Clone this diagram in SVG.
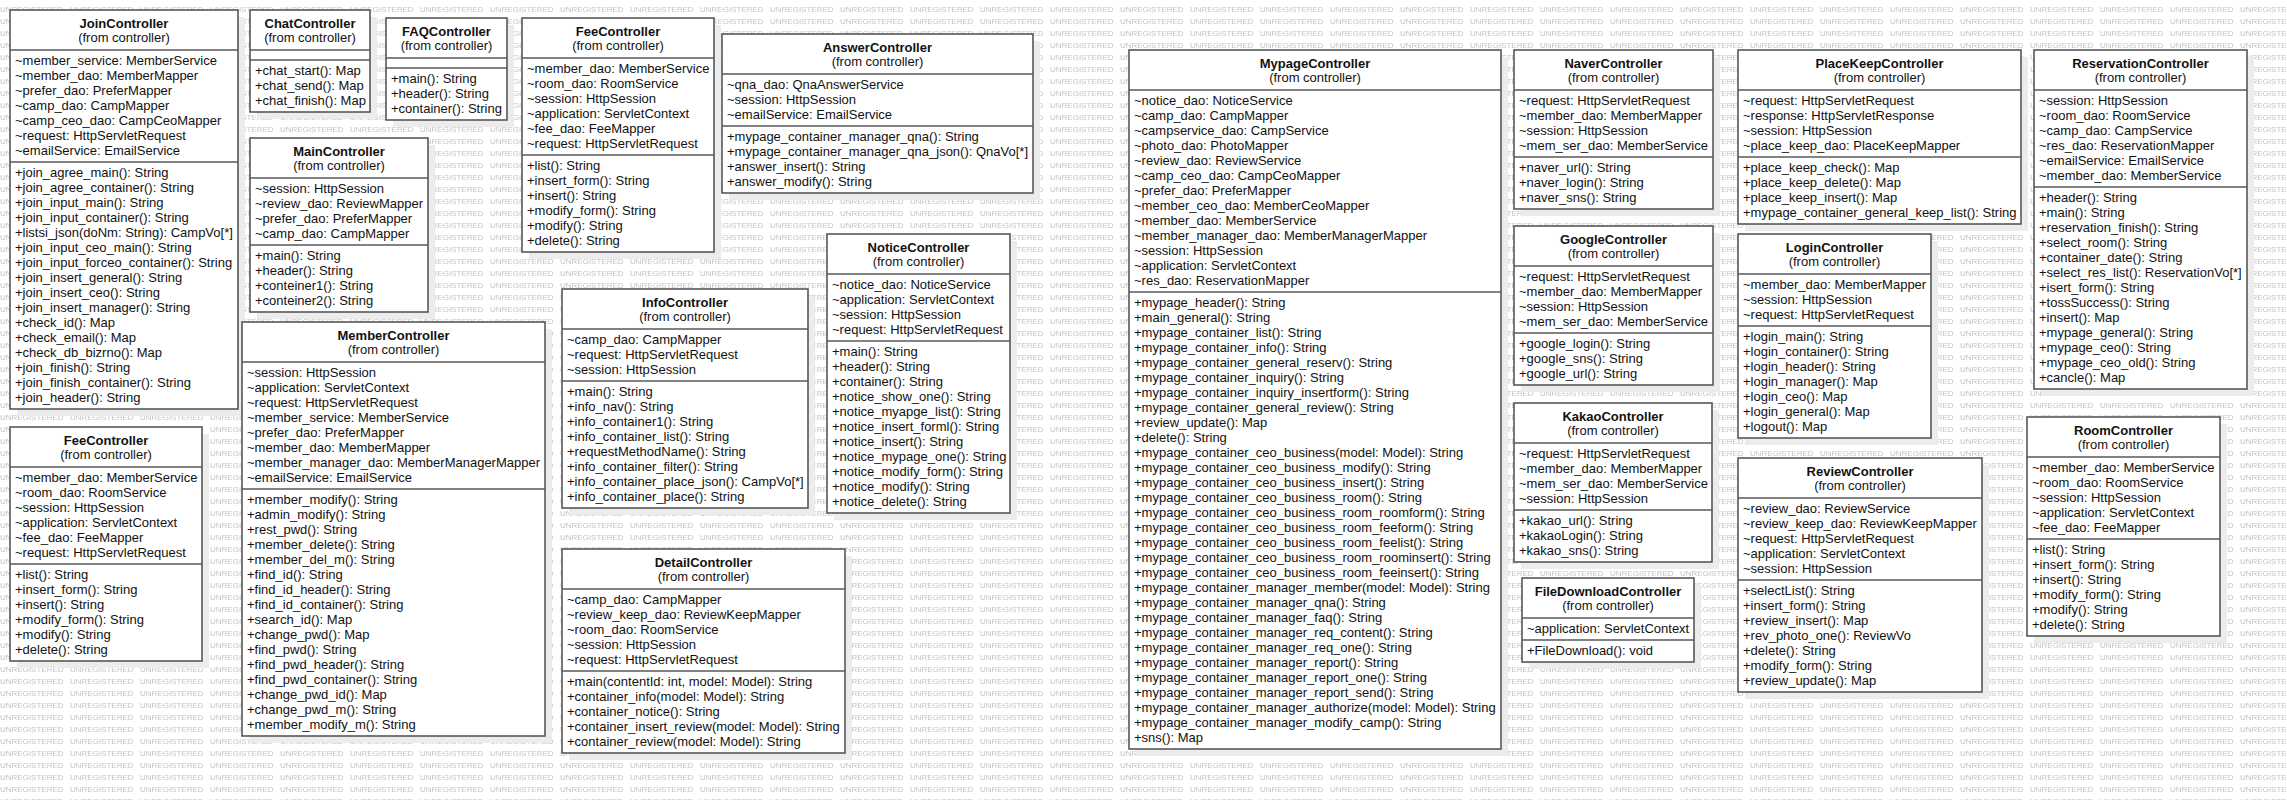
<svg xmlns="http://www.w3.org/2000/svg" width="2287" height="800" viewBox="0 0 2287 800">
<style>
.bx{fill:#fff;stroke:#585858;stroke-width:1.6}
.sh{fill:#ececec}
.sp{stroke:#585858;stroke-width:1.6}
.tt{font-family:"Liberation Sans",Arial,sans-serif;font-size:13px;font-weight:bold;fill:#111;text-anchor:middle}
.st{font-family:"Liberation Sans",Arial,sans-serif;font-size:13px;fill:#111;text-anchor:middle}
.tx{font-family:"Liberation Sans",Arial,sans-serif;font-size:13px;fill:#111}
.wm{font-family:"Liberation Sans",Arial,sans-serif;font-size:8px;fill:#c4c4c4}
</style>
<defs>
<pattern id="wmp" patternUnits="userSpaceOnUse" x="0" y="3" width="70" height="12">
<text class="wm" x="0" y="9">UNREGISTERED</text>
</pattern>
</defs>
<rect x="0" y="0" width="2287" height="800" fill="#fff"/>
<rect x="0" y="0" width="2287" height="800" fill="url(#wmp)"/>
<g id="connectors"/>

<g id="JoinController">
<rect class="sh" x="17" y="17" width="228" height="399"/>
<rect class="bx" x="10" y="10" width="228" height="399"/>
<line class="sp" x1="10" y1="50" x2="238" y2="50"/>
<line class="sp" x1="10" y1="162" x2="238" y2="162"/>
<text class="tt" x="124" y="28">JoinController</text>
<text class="st" x="124" y="42">(from controller)</text>
<text class="tx" x="15" y="65"><tspan x="15">~member_service: MemberService</tspan><tspan x="15" dy="15">~member_dao: MemberMapper</tspan><tspan x="15" dy="15">~prefer_dao: PreferMapper</tspan><tspan x="15" dy="15">~camp_dao: CampMapper</tspan><tspan x="15" dy="15">~camp_ceo_dao: CampCeoMapper</tspan><tspan x="15" dy="15">~request: HttpServletRequest</tspan><tspan x="15" dy="15">~emailService: EmailService</tspan></text>
<text class="tx" x="15" y="177"><tspan x="15">+join_agree_main(): String</tspan><tspan x="15" dy="15">+join_agree_container(): String</tspan><tspan x="15" dy="15">+join_input_main(): String</tspan><tspan x="15" dy="15">+join_input_container(): String</tspan><tspan x="15" dy="15">+listsi_json(doNm: String): CampVo[*]</tspan><tspan x="15" dy="15">+join_input_ceo_main(): String</tspan><tspan x="15" dy="15">+join_input_forceo_container(): String</tspan><tspan x="15" dy="15">+join_insert_general(): String</tspan><tspan x="15" dy="15">+join_insert_ceo(): String</tspan><tspan x="15" dy="15">+join_insert_manager(): String</tspan><tspan x="15" dy="15">+check_id(): Map</tspan><tspan x="15" dy="15">+check_email(): Map</tspan><tspan x="15" dy="15">+check_db_bizrno(): Map</tspan><tspan x="15" dy="15">+join_finish(): String</tspan><tspan x="15" dy="15">+join_finish_container(): String</tspan><tspan x="15" dy="15">+join_header(): String</tspan></text>
</g>

<g id="FeeControllerLeft">
<rect class="sh" x="17" y="434" width="192" height="234"/>
<rect class="bx" x="10" y="427" width="192" height="234"/>
<line class="sp" x1="10" y1="467" x2="202" y2="467"/>
<line class="sp" x1="10" y1="564" x2="202" y2="564"/>
<text class="tt" x="106" y="445">FeeController</text>
<text class="st" x="106" y="459">(from controller)</text>
<text class="tx" x="15" y="482"><tspan x="15">~member_dao: MemberService</tspan><tspan x="15" dy="15">~room_dao: RoomService</tspan><tspan x="15" dy="15">~session: HttpSession</tspan><tspan x="15" dy="15">~application: ServletContext</tspan><tspan x="15" dy="15">~fee_dao: FeeMapper</tspan><tspan x="15" dy="15">~request: HttpServletRequest</tspan></text>
<text class="tx" x="15" y="579"><tspan x="15">+list(): String</tspan><tspan x="15" dy="15">+insert_form(): String</tspan><tspan x="15" dy="15">+insert(): String</tspan><tspan x="15" dy="15">+modify_form(): String</tspan><tspan x="15" dy="15">+modify(): String</tspan><tspan x="15" dy="15">+delete(): String</tspan></text>
</g>

<g id="ChatController">
<rect class="sh" x="257" y="17" width="120" height="102"/>
<rect class="bx" x="250" y="10" width="120" height="102"/>
<line class="sp" x1="250" y1="50" x2="370" y2="50"/>
<line class="sp" x1="250" y1="60" x2="370" y2="60"/>
<text class="tt" x="310" y="28">ChatController</text>
<text class="st" x="310" y="42">(from controller)</text>
<text class="tx" x="255" y="75"><tspan x="255">+chat_start(): Map</tspan><tspan x="255" dy="15">+chat_send(): Map</tspan><tspan x="255" dy="15">+chat_finish(): Map</tspan></text>
</g>

<g id="FAQController">
<rect class="sh" x="393" y="25" width="121" height="102"/>
<rect class="bx" x="386" y="18" width="121" height="102"/>
<line class="sp" x1="386" y1="58" x2="507" y2="58"/>
<line class="sp" x1="386" y1="68" x2="507" y2="68"/>
<text class="tt" x="446.5" y="36">FAQController</text>
<text class="st" x="446.5" y="50">(from controller)</text>
<text class="tx" x="391" y="83"><tspan x="391">+main(): String</tspan><tspan x="391" dy="15">+header(): String</tspan><tspan x="391" dy="15">+container(): String</tspan></text>
</g>

<g id="FeeControllerTop">
<rect class="sh" x="529" y="25" width="192" height="234"/>
<rect class="bx" x="522" y="18" width="192" height="234"/>
<line class="sp" x1="522" y1="58" x2="714" y2="58"/>
<line class="sp" x1="522" y1="155" x2="714" y2="155"/>
<text class="tt" x="618" y="36">FeeController</text>
<text class="st" x="618" y="50">(from controller)</text>
<text class="tx" x="527" y="73"><tspan x="527">~member_dao: MemberService</tspan><tspan x="527" dy="15">~room_dao: RoomService</tspan><tspan x="527" dy="15">~session: HttpSession</tspan><tspan x="527" dy="15">~application: ServletContext</tspan><tspan x="527" dy="15">~fee_dao: FeeMapper</tspan><tspan x="527" dy="15">~request: HttpServletRequest</tspan></text>
<text class="tx" x="527" y="170"><tspan x="527">+list(): String</tspan><tspan x="527" dy="15">+insert_form(): String</tspan><tspan x="527" dy="15">+insert(): String</tspan><tspan x="527" dy="15">+modify_form(): String</tspan><tspan x="527" dy="15">+modify(): String</tspan><tspan x="527" dy="15">+delete(): String</tspan></text>
</g>

<g id="MainController">
<rect class="sh" x="257" y="145" width="178" height="174"/>
<rect class="bx" x="250" y="138" width="178" height="174"/>
<line class="sp" x1="250" y1="178" x2="428" y2="178"/>
<line class="sp" x1="250" y1="245" x2="428" y2="245"/>
<text class="tt" x="339" y="156">MainController</text>
<text class="st" x="339" y="170">(from controller)</text>
<text class="tx" x="255" y="193"><tspan x="255">~session: HttpSession</tspan><tspan x="255" dy="15">~review_dao: ReviewMapper</tspan><tspan x="255" dy="15">~prefer_dao: PreferMapper</tspan><tspan x="255" dy="15">~camp_dao: CampMapper</tspan></text>
<text class="tx" x="255" y="260"><tspan x="255">+main(): String</tspan><tspan x="255" dy="15">+header(): String</tspan><tspan x="255" dy="15">+conteiner1(): String</tspan><tspan x="255" dy="15">+conteiner2(): String</tspan></text>
</g>

<g id="MemberController">
<rect class="sh" x="249" y="329" width="303" height="414"/>
<rect class="bx" x="242" y="322" width="303" height="414"/>
<line class="sp" x1="242" y1="362" x2="545" y2="362"/>
<line class="sp" x1="242" y1="489" x2="545" y2="489"/>
<text class="tt" x="393.5" y="340">MemberController</text>
<text class="st" x="393.5" y="354">(from controller)</text>
<text class="tx" x="247" y="377"><tspan x="247">~session: HttpSession</tspan><tspan x="247" dy="15">~application: ServletContext</tspan><tspan x="247" dy="15">~request: HttpServletRequest</tspan><tspan x="247" dy="15">~member_service: MemberService</tspan><tspan x="247" dy="15">~prefer_dao: PreferMapper</tspan><tspan x="247" dy="15">~member_dao: MemberMapper</tspan><tspan x="247" dy="15">~member_manager_dao: MemberManagerMapper</tspan><tspan x="247" dy="15">~emailService: EmailService</tspan></text>
<text class="tx" x="247" y="504"><tspan x="247">+member_modify(): String</tspan><tspan x="247" dy="15">+admin_modify(): String</tspan><tspan x="247" dy="15">+rest_pwd(): String</tspan><tspan x="247" dy="15">+member_delete(): String</tspan><tspan x="247" dy="15">+member_del_m(): String</tspan><tspan x="247" dy="15">+find_id(): String</tspan><tspan x="247" dy="15">+find_id_header(): String</tspan><tspan x="247" dy="15">+find_id_container(): String</tspan><tspan x="247" dy="15">+search_id(): Map</tspan><tspan x="247" dy="15">+change_pwd(): Map</tspan><tspan x="247" dy="15">+find_pwd(): String</tspan><tspan x="247" dy="15">+find_pwd_header(): String</tspan><tspan x="247" dy="15">+find_pwd_container(): String</tspan><tspan x="247" dy="15">+change_pwd_id(): Map</tspan><tspan x="247" dy="15">+change_pwd_m(): String</tspan><tspan x="247" dy="15">+member_modify_m(): String</tspan></text>
</g>

<g id="InfoController">
<rect class="sh" x="569" y="296" width="246" height="219"/>
<rect class="bx" x="562" y="289" width="246" height="219"/>
<line class="sp" x1="562" y1="329" x2="808" y2="329"/>
<line class="sp" x1="562" y1="381" x2="808" y2="381"/>
<text class="tt" x="685" y="307">InfoController</text>
<text class="st" x="685" y="321">(from controller)</text>
<text class="tx" x="567" y="344"><tspan x="567">~camp_dao: CampMapper</tspan><tspan x="567" dy="15">~request: HttpServletRequest</tspan><tspan x="567" dy="15">~session: HttpSession</tspan></text>
<text class="tx" x="567" y="396"><tspan x="567">+main(): String</tspan><tspan x="567" dy="15">+info_nav(): String</tspan><tspan x="567" dy="15">+info_container1(): String</tspan><tspan x="567" dy="15">+info_container_list(): String</tspan><tspan x="567" dy="15">+requestMethodName(): String</tspan><tspan x="567" dy="15">+info_container_filter(): String</tspan><tspan x="567" dy="15">+info_container_place_json(): CampVo[*]</tspan><tspan x="567" dy="15">+info_container_place(): String</tspan></text>
</g>

<g id="NoticeController">
<rect class="sh" x="834" y="241" width="183" height="279"/>
<rect class="bx" x="827" y="234" width="183" height="279"/>
<line class="sp" x1="827" y1="274" x2="1010" y2="274"/>
<line class="sp" x1="827" y1="341" x2="1010" y2="341"/>
<text class="tt" x="918.5" y="252">NoticeController</text>
<text class="st" x="918.5" y="266">(from controller)</text>
<text class="tx" x="832" y="289"><tspan x="832">~notice_dao: NoticeService</tspan><tspan x="832" dy="15">~application: ServletContext</tspan><tspan x="832" dy="15">~session: HttpSession</tspan><tspan x="832" dy="15">~request: HttpServletRequest</tspan></text>
<text class="tx" x="832" y="356"><tspan x="832">+main(): String</tspan><tspan x="832" dy="15">+header(): String</tspan><tspan x="832" dy="15">+container(): String</tspan><tspan x="832" dy="15">+notice_show_one(): String</tspan><tspan x="832" dy="15">+notice_myapge_list(): String</tspan><tspan x="832" dy="15">+notice_insert_forml(): String</tspan><tspan x="832" dy="15">+notice_insert(): String</tspan><tspan x="832" dy="15">+notice_mypage_one(): String</tspan><tspan x="832" dy="15">+notice_modify_form(): String</tspan><tspan x="832" dy="15">+notice_modify(): String</tspan><tspan x="832" dy="15">+notice_delete(): String</tspan></text>
</g>

<g id="DetailController">
<rect class="sh" x="569" y="556" width="283" height="204"/>
<rect class="bx" x="562" y="549" width="283" height="204"/>
<line class="sp" x1="562" y1="589" x2="845" y2="589"/>
<line class="sp" x1="562" y1="671" x2="845" y2="671"/>
<text class="tt" x="703.5" y="567">DetailController</text>
<text class="st" x="703.5" y="581">(from controller)</text>
<text class="tx" x="567" y="604"><tspan x="567">~camp_dao: CampMapper</tspan><tspan x="567" dy="15">~review_keep_dao: ReviewKeepMapper</tspan><tspan x="567" dy="15">~room_dao: RoomService</tspan><tspan x="567" dy="15">~session: HttpSession</tspan><tspan x="567" dy="15">~request: HttpServletRequest</tspan></text>
<text class="tx" x="567" y="686"><tspan x="567">+main(contentId: int, model: Model): String</tspan><tspan x="567" dy="15">+container_info(model: Model): String</tspan><tspan x="567" dy="15">+container_notice(): String</tspan><tspan x="567" dy="15">+container_insert_review(model: Model): String</tspan><tspan x="567" dy="15">+container_review(model: Model): String</tspan></text>
</g>

<g id="AnswerController">
<rect class="sh" x="729" y="41" width="311" height="159"/>
<rect class="bx" x="722" y="34" width="311" height="159"/>
<line class="sp" x1="722" y1="74" x2="1033" y2="74"/>
<line class="sp" x1="722" y1="126" x2="1033" y2="126"/>
<text class="tt" x="877.5" y="52">AnswerController</text>
<text class="st" x="877.5" y="66">(from controller)</text>
<text class="tx" x="727" y="89"><tspan x="727">~qna_dao: QnaAnswerService</tspan><tspan x="727" dy="15">~session: HttpSession</tspan><tspan x="727" dy="15">~emailService: EmailService</tspan></text>
<text class="tx" x="727" y="141"><tspan x="727">+mypage_container_manager_qna(): String</tspan><tspan x="727" dy="15">+mypage_container_manager_qna_json(): QnaVo[*]</tspan><tspan x="727" dy="15">+answer_insert(): String</tspan><tspan x="727" dy="15">+answer_modify(): String</tspan></text>
</g>

<g id="MypageController">
<rect class="sh" x="1136" y="57" width="372" height="699"/>
<rect class="bx" x="1129" y="50" width="372" height="699"/>
<line class="sp" x1="1129" y1="90" x2="1501" y2="90"/>
<line class="sp" x1="1129" y1="292" x2="1501" y2="292"/>
<text class="tt" x="1315" y="68">MypageController</text>
<text class="st" x="1315" y="82">(from controller)</text>
<text class="tx" x="1134" y="105"><tspan x="1134">~notice_dao: NoticeService</tspan><tspan x="1134" dy="15">~camp_dao: CampMapper</tspan><tspan x="1134" dy="15">~campservice_dao: CampService</tspan><tspan x="1134" dy="15">~photo_dao: PhotoMapper</tspan><tspan x="1134" dy="15">~review_dao: ReviewService</tspan><tspan x="1134" dy="15">~camp_ceo_dao: CampCeoMapper</tspan><tspan x="1134" dy="15">~prefer_dao: PreferMapper</tspan><tspan x="1134" dy="15">~member_ceo_dao: MemberCeoMapper</tspan><tspan x="1134" dy="15">~member_dao: MemberService</tspan><tspan x="1134" dy="15">~member_manager_dao: MemberManagerMapper</tspan><tspan x="1134" dy="15">~session: HttpSession</tspan><tspan x="1134" dy="15">~application: ServletContext</tspan><tspan x="1134" dy="15">~res_dao: ReservationMapper</tspan></text>
<text class="tx" x="1134" y="307"><tspan x="1134">+mypage_header(): String</tspan><tspan x="1134" dy="15">+main_general(): String</tspan><tspan x="1134" dy="15">+mypage_container_list(): String</tspan><tspan x="1134" dy="15">+mypage_container_info(): String</tspan><tspan x="1134" dy="15">+mypage_container_general_reserv(): String</tspan><tspan x="1134" dy="15">+mypage_container_inquiry(): String</tspan><tspan x="1134" dy="15">+mypage_container_inquiry_insertform(): String</tspan><tspan x="1134" dy="15">+mypage_container_general_review(): String</tspan><tspan x="1134" dy="15">+review_update(): Map</tspan><tspan x="1134" dy="15">+delete(): String</tspan><tspan x="1134" dy="15">+mypage_container_ceo_business(model: Model): String</tspan><tspan x="1134" dy="15">+mypage_container_ceo_business_modify(): String</tspan><tspan x="1134" dy="15">+mypage_container_ceo_business_insert(): String</tspan><tspan x="1134" dy="15">+mypage_container_ceo_business_room(): String</tspan><tspan x="1134" dy="15">+mypage_container_ceo_business_room_roomform(): String</tspan><tspan x="1134" dy="15">+mypage_container_ceo_business_room_feeform(): String</tspan><tspan x="1134" dy="15">+mypage_container_ceo_business_room_feelist(): String</tspan><tspan x="1134" dy="15">+mypage_container_ceo_business_room_roominsert(): String</tspan><tspan x="1134" dy="15">+mypage_container_ceo_business_room_feeinsert(): String</tspan><tspan x="1134" dy="15">+mypage_container_manager_member(model: Model): String</tspan><tspan x="1134" dy="15">+mypage_container_manager_qna(): String</tspan><tspan x="1134" dy="15">+mypage_container_manager_faq(): String</tspan><tspan x="1134" dy="15">+mypage_container_manager_req_content(): String</tspan><tspan x="1134" dy="15">+mypage_container_manager_req_one(): String</tspan><tspan x="1134" dy="15">+mypage_container_manager_report(): String</tspan><tspan x="1134" dy="15">+mypage_container_manager_report_one(): String</tspan><tspan x="1134" dy="15">+mypage_container_manager_report_send(): String</tspan><tspan x="1134" dy="15">+mypage_container_manager_authorize(model: Model): String</tspan><tspan x="1134" dy="15">+mypage_container_manager_modify_camp(): String</tspan><tspan x="1134" dy="15">+sns(): Map</tspan></text>
</g>

<g id="NaverController">
<rect class="sh" x="1521" y="57" width="199" height="159"/>
<rect class="bx" x="1514" y="50" width="199" height="159"/>
<line class="sp" x1="1514" y1="90" x2="1713" y2="90"/>
<line class="sp" x1="1514" y1="157" x2="1713" y2="157"/>
<text class="tt" x="1613.5" y="68">NaverController</text>
<text class="st" x="1613.5" y="82">(from controller)</text>
<text class="tx" x="1519" y="105"><tspan x="1519">~request: HttpServletRequest</tspan><tspan x="1519" dy="15">~member_dao: MemberMapper</tspan><tspan x="1519" dy="15">~session: HttpSession</tspan><tspan x="1519" dy="15">~mem_ser_dao: MemberService</tspan></text>
<text class="tx" x="1519" y="172"><tspan x="1519">+naver_url(): String</tspan><tspan x="1519" dy="15">+naver_login(): String</tspan><tspan x="1519" dy="15">+naver_sns(): String</tspan></text>
</g>

<g id="GoogleController">
<rect class="sh" x="1521" y="233" width="199" height="159"/>
<rect class="bx" x="1514" y="226" width="199" height="159"/>
<line class="sp" x1="1514" y1="266" x2="1713" y2="266"/>
<line class="sp" x1="1514" y1="333" x2="1713" y2="333"/>
<text class="tt" x="1613.5" y="244">GoogleController</text>
<text class="st" x="1613.5" y="258">(from controller)</text>
<text class="tx" x="1519" y="281"><tspan x="1519">~request: HttpServletRequest</tspan><tspan x="1519" dy="15">~member_dao: MemberMapper</tspan><tspan x="1519" dy="15">~session: HttpSession</tspan><tspan x="1519" dy="15">~mem_ser_dao: MemberService</tspan></text>
<text class="tx" x="1519" y="348"><tspan x="1519">+google_login(): String</tspan><tspan x="1519" dy="15">+google_sns(): String</tspan><tspan x="1519" dy="15">+google_url(): String</tspan></text>
</g>

<g id="KakaoController">
<rect class="sh" x="1521" y="410" width="198" height="159"/>
<rect class="bx" x="1514" y="403" width="198" height="159"/>
<line class="sp" x1="1514" y1="443" x2="1712" y2="443"/>
<line class="sp" x1="1514" y1="510" x2="1712" y2="510"/>
<text class="tt" x="1613" y="421">KakaoController</text>
<text class="st" x="1613" y="435">(from controller)</text>
<text class="tx" x="1519" y="458"><tspan x="1519">~request: HttpServletRequest</tspan><tspan x="1519" dy="15">~member_dao: MemberMapper</tspan><tspan x="1519" dy="15">~mem_ser_dao: MemberService</tspan><tspan x="1519" dy="15">~session: HttpSession</tspan></text>
<text class="tx" x="1519" y="525"><tspan x="1519">+kakao_url(): String</tspan><tspan x="1519" dy="15">+kakaoLogin(): String</tspan><tspan x="1519" dy="15">+kakao_sns(): String</tspan></text>
</g>

<g id="FileDownloadController">
<rect class="sh" x="1529" y="585" width="172" height="84"/>
<rect class="bx" x="1522" y="578" width="172" height="84"/>
<line class="sp" x1="1522" y1="618" x2="1694" y2="618"/>
<line class="sp" x1="1522" y1="640" x2="1694" y2="640"/>
<text class="tt" x="1608" y="596">FileDownloadController</text>
<text class="st" x="1608" y="610">(from controller)</text>
<text class="tx" x="1527" y="633">~application: ServletContext</text>
<text class="tx" x="1527" y="655">+FileDownload(): void</text>
</g>

<g id="PlaceKeepController">
<rect class="sh" x="1745" y="57" width="283" height="174"/>
<rect class="bx" x="1738" y="50" width="283" height="174"/>
<line class="sp" x1="1738" y1="90" x2="2021" y2="90"/>
<line class="sp" x1="1738" y1="157" x2="2021" y2="157"/>
<text class="tt" x="1879.5" y="68">PlaceKeepController</text>
<text class="st" x="1879.5" y="82">(from controller)</text>
<text class="tx" x="1743" y="105"><tspan x="1743">~request: HttpServletRequest</tspan><tspan x="1743" dy="15">~response: HttpServletResponse</tspan><tspan x="1743" dy="15">~session: HttpSession</tspan><tspan x="1743" dy="15">~place_keep_dao: PlaceKeepMapper</tspan></text>
<text class="tx" x="1743" y="172"><tspan x="1743">+place_keep_check(): Map</tspan><tspan x="1743" dy="15">+place_keep_delete(): Map</tspan><tspan x="1743" dy="15">+place_keep_insert(): Map</tspan><tspan x="1743" dy="15">+mypage_container_general_keep_list(): String</tspan></text>
</g>

<g id="LoginController">
<rect class="sh" x="1745" y="241" width="193" height="204"/>
<rect class="bx" x="1738" y="234" width="193" height="204"/>
<line class="sp" x1="1738" y1="274" x2="1931" y2="274"/>
<line class="sp" x1="1738" y1="326" x2="1931" y2="326"/>
<text class="tt" x="1834.5" y="252">LoginController</text>
<text class="st" x="1834.5" y="266">(from controller)</text>
<text class="tx" x="1743" y="289"><tspan x="1743">~member_dao: MemberMapper</tspan><tspan x="1743" dy="15">~session: HttpSession</tspan><tspan x="1743" dy="15">~request: HttpServletRequest</tspan></text>
<text class="tx" x="1743" y="341"><tspan x="1743">+login_main(): String</tspan><tspan x="1743" dy="15">+login_container(): String</tspan><tspan x="1743" dy="15">+login_header(): String</tspan><tspan x="1743" dy="15">+login_manager(): Map</tspan><tspan x="1743" dy="15">+login_ceo(): Map</tspan><tspan x="1743" dy="15">+login_general(): Map</tspan><tspan x="1743" dy="15">+logout(): Map</tspan></text>
</g>

<g id="ReviewController">
<rect class="sh" x="1745" y="465" width="244" height="234"/>
<rect class="bx" x="1738" y="458" width="244" height="234"/>
<line class="sp" x1="1738" y1="498" x2="1982" y2="498"/>
<line class="sp" x1="1738" y1="580" x2="1982" y2="580"/>
<text class="tt" x="1860" y="476">ReviewController</text>
<text class="st" x="1860" y="490">(from controller)</text>
<text class="tx" x="1743" y="513"><tspan x="1743">~review_dao: ReviewService</tspan><tspan x="1743" dy="15">~review_keep_dao: ReviewKeepMapper</tspan><tspan x="1743" dy="15">~request: HttpServletRequest</tspan><tspan x="1743" dy="15">~application: ServletContext</tspan><tspan x="1743" dy="15">~session: HttpSession</tspan></text>
<text class="tx" x="1743" y="595"><tspan x="1743">+selectList(): String</tspan><tspan x="1743" dy="15">+insert_form(): String</tspan><tspan x="1743" dy="15">+review_insert(): Map</tspan><tspan x="1743" dy="15">+rev_photo_one(): ReviewVo</tspan><tspan x="1743" dy="15">+delete(): String</tspan><tspan x="1743" dy="15">+modify_form(): String</tspan><tspan x="1743" dy="15">+review_update(): Map</tspan></text>
</g>

<g id="ReservationController">
<rect class="sh" x="2041" y="57" width="213" height="339"/>
<rect class="bx" x="2034" y="50" width="213" height="339"/>
<line class="sp" x1="2034" y1="90" x2="2247" y2="90"/>
<line class="sp" x1="2034" y1="187" x2="2247" y2="187"/>
<text class="tt" x="2140.5" y="68">ReservationController</text>
<text class="st" x="2140.5" y="82">(from controller)</text>
<text class="tx" x="2039" y="105"><tspan x="2039">~session: HttpSession</tspan><tspan x="2039" dy="15">~room_dao: RoomService</tspan><tspan x="2039" dy="15">~camp_dao: CampService</tspan><tspan x="2039" dy="15">~res_dao: ReservationMapper</tspan><tspan x="2039" dy="15">~emailService: EmailService</tspan><tspan x="2039" dy="15">~member_dao: MemberService</tspan></text>
<text class="tx" x="2039" y="202"><tspan x="2039">+header(): String</tspan><tspan x="2039" dy="15">+main(): String</tspan><tspan x="2039" dy="15">+reservation_finish(): String</tspan><tspan x="2039" dy="15">+select_room(): String</tspan><tspan x="2039" dy="15">+container_date(): String</tspan><tspan x="2039" dy="15">+select_res_list(): ReservationVo[*]</tspan><tspan x="2039" dy="15">+isert_form(): String</tspan><tspan x="2039" dy="15">+tossSuccess(): String</tspan><tspan x="2039" dy="15">+insert(): Map</tspan><tspan x="2039" dy="15">+mypage_general(): String</tspan><tspan x="2039" dy="15">+mypage_ceo(): String</tspan><tspan x="2039" dy="15">+mypage_ceo_old(): String</tspan><tspan x="2039" dy="15">+cancle(): Map</tspan></text>
</g>

<g id="RoomController">
<rect class="sh" x="2034" y="424" width="193" height="219"/>
<rect class="bx" x="2027" y="417" width="193" height="219"/>
<line class="sp" x1="2027" y1="457" x2="2220" y2="457"/>
<line class="sp" x1="2027" y1="539" x2="2220" y2="539"/>
<text class="tt" x="2123.5" y="435">RoomController</text>
<text class="st" x="2123.5" y="449">(from controller)</text>
<text class="tx" x="2032" y="472"><tspan x="2032">~member_dao: MemberService</tspan><tspan x="2032" dy="15">~room_dao: RoomService</tspan><tspan x="2032" dy="15">~session: HttpSession</tspan><tspan x="2032" dy="15">~application: ServletContext</tspan><tspan x="2032" dy="15">~fee_dao: FeeMapper</tspan></text>
<text class="tx" x="2032" y="554"><tspan x="2032">+list(): String</tspan><tspan x="2032" dy="15">+insert_form(): String</tspan><tspan x="2032" dy="15">+insert(): String</tspan><tspan x="2032" dy="15">+modify_form(): String</tspan><tspan x="2032" dy="15">+modify(): String</tspan><tspan x="2032" dy="15">+delete(): String</tspan></text>
</g>
</svg>
